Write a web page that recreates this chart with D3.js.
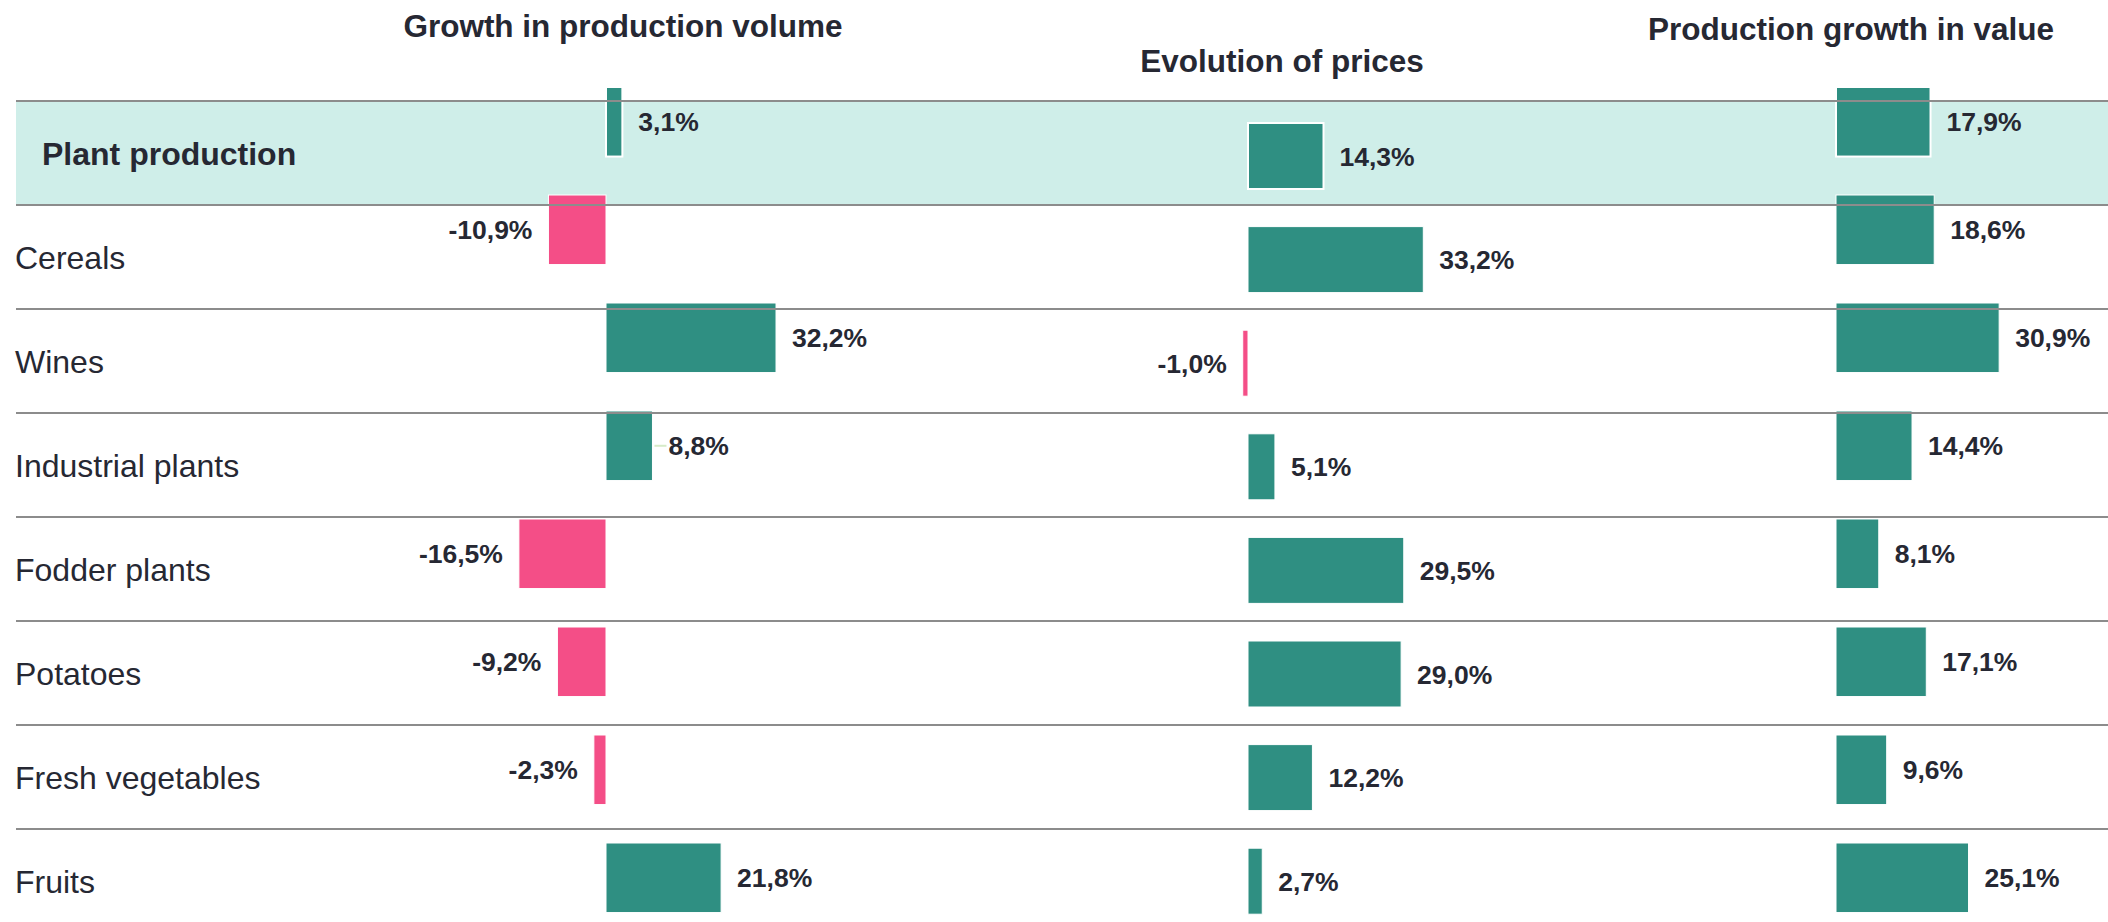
<!DOCTYPE html>
<html>
<head>
<meta charset="utf-8">
<script src="https://cdn.jsdelivr.net/npm/d3@7"></script>
<style>
  body { margin: 0; background: #ffffff; }
  svg text { font-family: "Liberation Sans", Arial, sans-serif; fill: #262833; }
</style>
</head>
<body>
<div id="chart"></div>
<script>
// data
var categories = ["Plant production", "Cereals", "Wines", "Industrial plants",
  "Fodder plants", "Potatoes", "Fresh vegetables", "Fruits"];
var volumeGrowth = [3.1, -10.9, 32.2, 8.8, -16.5, -9.2, -2.3, 21.8];
var priceEvolution = [14.3, 33.2, -1.0, 5.1, 29.5, 29.0, 12.2, 2.7];
var valueGrowth = [17.9, 18.6, 30.9, 14.4, 8.1, 17.1, 9.6, 25.1];
var columnTitles = ["Growth in production volume", "Evolution of prices", "Production growth in value"];

var svgWidth = 2108;
var svgHeight = 922;

var teal = "#2f8f82";
var pink = "#f44e87";
var bandColor = "#cfeee9";
var lineColor = "#8c8c8c";

var svg = d3.select("#chart")
  .append("svg")
  .attr("width", svgWidth)
  .attr("height", svgHeight);

// number format with comma decimal and a plain hyphen for negatives
var locale = d3.formatLocale({decimal: ",", thousands: " ", grouping: [3], currency: ["", "%"], minus: "-"});
var fmt = locale.format(".1f");

// rows (lines + labels)
var rowScale = d3.scaleBand()
  .domain(categories)
  .range([101, 101 + 104 * categories.length]);

// bar bands: the volume and value columns sit on a slightly different grid than prices
var barScaleA = d3.scaleBand()
  .domain(categories)
  .range([87, 87 + 108 * (categories.length - 0.356)])
  .paddingInner(0.356)
  .paddingOuter(0);

var barScaleB = d3.scaleBand()
  .domain(categories)
  .range([123, 123 + 103.6 * (categories.length - 0.363)])
  .paddingInner(0.363)
  .paddingOuter(0);

var pxPerPct = 5.28;
function xScale(zero) {
  return d3.scaleLinear()
    .domain([0, 10])
    .range([zero, zero + 10 * pxPerPct]);
}

var columns = [
  {title: columnTitles[0], values: volumeGrowth, x: xScale(606), y: barScaleA, titleX: 623, titleY: 37},
  {title: columnTitles[1], values: priceEvolution, x: xScale(1248), y: barScaleB, titleX: 1282, titleY: 72},
  {title: columnTitles[2], values: valueGrowth, x: xScale(1836), y: barScaleA, titleX: 1851, titleY: 40}
];

// highlighted first row
svg.append("rect")
  .attr("x", 16)
  .attr("y", rowScale(categories[0]))
  .attr("width", svgWidth - 16)
  .attr("height", rowScale.bandwidth())
  .attr("fill", bandColor);

// bars
columns.forEach(function(col) {
  var rows = categories.map(function(c, i) { return {cat: c, v: col.values[i]}; });

  svg.append("g")
    .selectAll("rect")
    .data(rows)
    .enter()
    .append("rect")
    .attr("x", d => Math.min(col.x(0), col.x(d.v)))
    .attr("y", d => col.y(d.cat))
    .attr("width", d => Math.max(2, Math.abs(col.x(d.v) - col.x(0))))
    .attr("height", col.y.bandwidth())
    .attr("fill", d => d.v < 0 ? pink : teal)
    .attr("stroke", "#ffffff")
    .attr("stroke-width", d => d.cat === categories[0] ? 2 : 1);
});

// row separator lines (drawn over the bars)
svg.append("g")
  .selectAll("line")
  .data(categories)
  .enter()
  .append("line")
  .attr("x1", 16)
  .attr("x2", svgWidth)
  .attr("y1", d => rowScale(d))
  .attr("y2", d => rowScale(d))
  .attr("stroke", lineColor)
  .attr("stroke-width", 2);

// value labels
columns.forEach(function(col) {
  var rows = categories.map(function(c, i) { return {cat: c, v: col.values[i]}; });

  svg.append("g")
    .selectAll("text")
    .data(rows)
    .enter()
    .append("text")
    .attr("x", d => d.v < 0 ? col.x(d.v) - 16 : col.x(d.v) + 16)
    .attr("y", d => col.y(d.cat) + col.y.bandwidth() / 2)
    .attr("dy", "0.36em")
    .attr("text-anchor", d => d.v < 0 ? "end" : "start")
    .style("font-size", "26.5px")
    .style("font-weight", "bold")
    .text(d => fmt(d.v) + "%");

  // column title
  svg.append("text")
    .attr("x", col.titleX)
    .attr("y", col.titleY)
    .attr("text-anchor", "middle")
    .style("font-size", "31.5px")
    .style("font-weight", "bold")
    .text(col.title);
});

// small connector next to the industrial plants volume label
svg.append("line")
  .attr("x1", columns[0].x(volumeGrowth[3]) + 2)
  .attr("x2", columns[0].x(volumeGrowth[3]) + 14)
  .attr("y1", barScaleA(categories[3]) + barScaleA.bandwidth() / 2)
  .attr("y2", barScaleA(categories[3]) + barScaleA.bandwidth() / 2)
  .attr("stroke", "#d6ebc8")
  .attr("stroke-width", 2);

// category labels
svg.append("g")
  .selectAll("text")
  .data(categories)
  .enter()
  .append("text")
  .attr("x", (d, i) => i === 0 ? 42 : 15)
  .attr("y", d => rowScale(d) + rowScale.bandwidth() / 2)
  .attr("dy", "0.36em")
  .style("font-size", "32px")
  .style("font-weight", (d, i) => i === 0 ? "bold" : "normal")
  .text(d => d);
</script>
</body>
</html>
